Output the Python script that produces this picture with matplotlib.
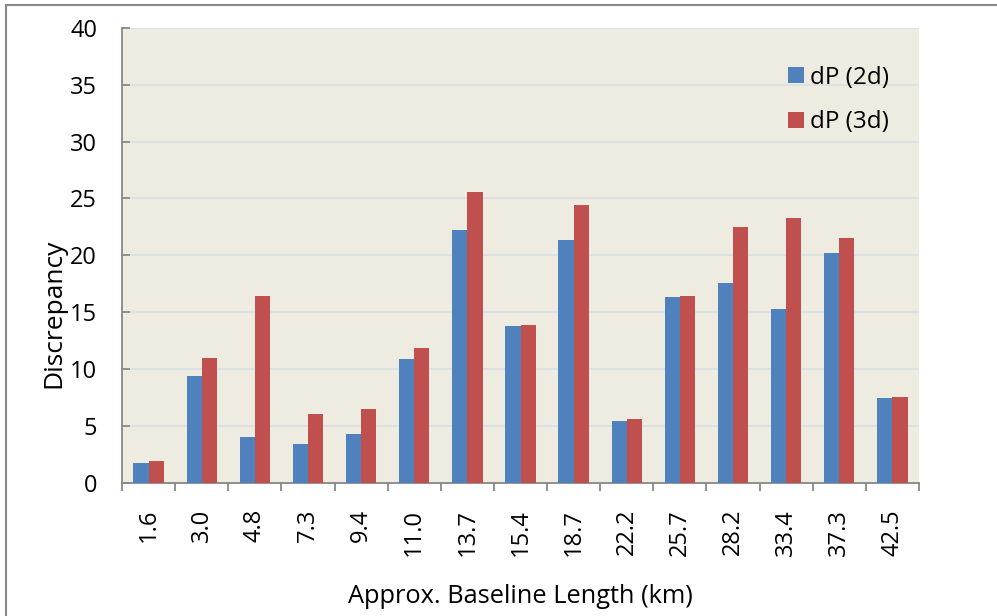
import matplotlib
matplotlib.use("Agg")
import matplotlib.pyplot as plt
import numpy as np
from matplotlib.lines import Line2D

categories = ["1.6", "3.0", "4.8", "7.3", "9.4", "11.0", "13.7", "15.4", "18.7",
              "22.2", "25.7", "28.2", "33.4", "37.3", "42.5"]
dp_2d = [1.7, 9.4, 4.0, 3.4, 4.3, 10.9, 22.2, 13.8, 21.3, 5.4, 16.3, 17.6, 15.3, 20.2, 7.4]
dp_3d = [1.9, 11.0, 16.4, 6.0, 6.5, 11.8, 25.6, 13.9, 24.4, 5.6, 16.4, 22.5, 23.3, 21.5, 7.5]
series_labels = ["dP (2d)", "dP (3d)"]
yticks = [0, 5, 10, 15, 20, 25, 30, 35, 40]

plt.rcParams['font.family'] = ['Open Sans', 'DejaVu Sans']

fig = plt.figure(figsize=(9.97, 6.16), dpi=100)
ax = fig.add_axes([122/997, 1 - 482.5/616, (919-122)/997, (482.5-28)/616])
ax.set_facecolor('#EEECE1')

x = np.arange(len(categories))
w = 1/3.5
ax.bar(x - w/2, dp_2d, width=w, color='#4F81BD', label=series_labels[0], zorder=3)
ax.bar(x + w/2, dp_3d, width=w, color='#C0504D', label=series_labels[1], zorder=3)

ax.set_xlim(-0.5, len(categories) - 0.5)
ax.set_ylim(0, 40)
ax.set_yticks(yticks)
ax.yaxis.grid(True, color='#D9E0E5', linewidth=1.2, zorder=0)
ax.set_axisbelow(True)

ax.set_xticks(np.arange(len(categories) + 1) - 0.5)
ax.set_xticklabels([])
ax.set_xticks(x, minor=True)
ax.set_xticklabels(categories, minor=True, rotation=90, fontsize=17)
ax.tick_params(axis='x', which='minor', length=0, pad=19)
ax.tick_params(axis='x', which='major', length=6, width=1.3, color='#888888', direction='out')
ax.tick_params(axis='y', which='major', length=6, width=1.3, color='#888888', direction='in',
               labelsize=17, pad=18)

for s in ['top', 'right']:
    ax.spines[s].set_visible(False)
for s in ['left', 'bottom']:
    ax.spines[s].set_color('#888888')
    ax.spines[s].set_linewidth(1.3)

ax.set_xlabel("Approx. Baseline Length (km)", fontsize=18.3, labelpad=20)
ax.set_ylabel("Discrepancy", fontsize=19)
ax.yaxis.set_label_coords((66 - 122) / 797, (482.5 - 313) / 454.5)

leg = ax.legend(loc='upper right', bbox_to_anchor=(0.99, 0.965), frameon=False, fontsize=17.5,
                handlelength=0.65, handleheight=0.65, handletextpad=0.25, labelspacing=0.85)

# outer chart border
fig.add_artist(Line2D([6/997, 6/997], [0, 1 - 5/616], transform=fig.transFigure,
                      color='#888888', linewidth=1.5))
fig.add_artist(Line2D([6/997, 1], [1 - 5/616, 1 - 5/616], transform=fig.transFigure,
                      color='#888888', linewidth=1.5))

fig.savefig("out.png", dpi=100)
